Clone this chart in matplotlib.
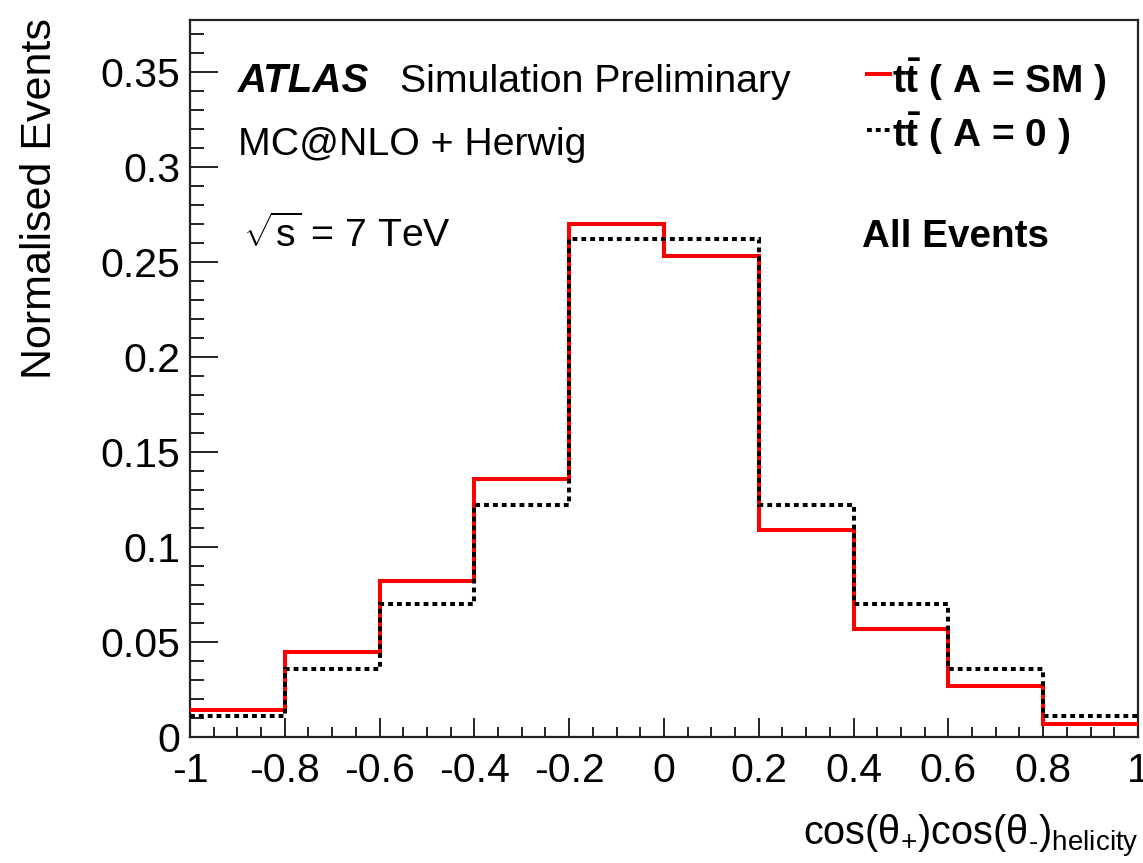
import numpy as np
import matplotlib
matplotlib.use("Agg")
import matplotlib.pyplot as plt
from matplotlib.ticker import MultipleLocator, FixedFormatter, FixedLocator

plt.rcParams['font.family'] = ['Liberation Sans', 'DejaVu Sans']
plt.rcParams['mathtext.fontset'] = 'custom'
plt.rcParams['mathtext.rm'] = 'Liberation Sans'
plt.rcParams['mathtext.it'] = 'Liberation Sans:italic'
plt.rcParams['mathtext.bf'] = 'Liberation Sans:bold'
plt.rcParams['mathtext.sf'] = 'Liberation Sans'

# Bin edges of cos(theta+)cos(theta-) in the helicity basis
bin_edges = [-1.0, -0.8, -0.6, -0.4, -0.2, 0.0, 0.2, 0.4, 0.6, 0.8, 1.0]
# Normalised event fractions per bin
sm_values = [0.014, 0.045, 0.082, 0.136, 0.270, 0.253, 0.109, 0.057, 0.027, 0.007]
a0_values = [0.011, 0.036, 0.070, 0.122, 0.262, 0.262, 0.122, 0.070, 0.036, 0.011]

x_ticks = [-1, -0.8, -0.6, -0.4, -0.2, 0, 0.2, 0.4, 0.6, 0.8, 1]
x_tick_labels = ['-1', '-0.8', '-0.6', '-0.4', '-0.2', '0', '0.2', '0.4', '0.6', '0.8', '1']
y_ticks = [0, 0.05, 0.1, 0.15, 0.2, 0.25, 0.3, 0.35]
y_tick_labels = ['0', '0.05', '0.1', '0.15', '0.2', '0.25', '0.3', '0.35']

fig = plt.figure(figsize=(11.43, 8.63), dpi=100)
ax = fig.add_axes([0.1662, 0.146, 0.8294, 0.8308])

ax.stairs(sm_values, bin_edges, color='#ff0000', linewidth=2.9, baseline=None, zorder=3)
ax.stairs(a0_values, bin_edges, color='black', linewidth=2.9, baseline=None,
          linestyle=(0, (1.2, 1.0)), zorder=4)

ax.set_xlim(-1, 1)
ax.set_ylim(0, 0.3775)

ax.xaxis.set_major_locator(FixedLocator(x_ticks))
ax.xaxis.set_major_formatter(FixedFormatter(x_tick_labels))
ax.xaxis.set_minor_locator(MultipleLocator(0.05))
ax.yaxis.set_major_locator(FixedLocator(y_ticks))
ax.yaxis.set_major_formatter(FixedFormatter(y_tick_labels))
ax.yaxis.set_minor_locator(MultipleLocator(0.01))

ax.tick_params(axis='both', which='both', direction='in', top=False, right=False,
               width=1.4, colors='#222222', labelcolor='black', labelsize=29.5)
ax.tick_params(axis='x', which='major', length=14, pad=11)
ax.tick_params(axis='x', which='minor', length=7)
ax.tick_params(axis='y', which='major', length=20, pad=7)
ax.tick_params(axis='y', which='minor', length=10)
for s in ax.spines.values():
    s.set_linewidth(1.6)
    s.set_color('#222222')

ax.set_ylabel('Normalised Events', fontsize=31)
ax.yaxis.set_label_coords(-0.137, 0.751)
fig.text(0.996, 18 / 863, r'$\mathrm{cos(\theta_{+})cos(\theta_{‐})_{helicity}}$',
         fontsize=28.5, ha='right', va='baseline')

# Annotations
fig.text(238 / 1143, 1 - 92 / 863, 'ATLAS', fontsize=29, fontweight='bold',
         fontstyle='italic', va='baseline')
fig.text(400 / 1143, 1 - 92 / 863, 'Simulation Preliminary', fontsize=28.3, va='baseline')
fig.text(238 / 1143, 1 - 155 / 863, 'MC@NLO + Herwig', fontsize=28.3, va='baseline')
fig.text(243 / 1143, 1 - 247 / 863, r'$\sqrt{\mathrm{s}}$ = 7 TeV', fontsize=28.3,
         va='baseline')
fig.text(862 / 1143, 1 - 247 / 863, 'All Events', fontsize=27.8, fontweight='bold',
         va='baseline')

# Legend entries
fig.add_artist(plt.Line2D([867 / 1143, 890 / 1143], [1 - 74 / 863, 1 - 74 / 863],
                          color='#ff0000', linewidth=2.9, transform=fig.transFigure))
fig.add_artist(plt.Line2D([867 / 1143, 890 / 1143], [1 - 130 / 863, 1 - 130 / 863],
                          color='black', linewidth=2.9, linestyle=(0, (1.2, 1.0)),
                          transform=fig.transFigure))
fig.text(892 / 1143, 1 - 93 / 863, r'$\mathbf{t\bar{t}}$ ( A = SM )', fontsize=28,
         fontweight='bold', va='baseline')
fig.text(892 / 1143, 1 - 147 / 863, r'$\mathbf{t\bar{t}}$ ( A = 0 )', fontsize=28,
         fontweight='bold', va='baseline')

fig.savefig('out.png', dpi=100)
